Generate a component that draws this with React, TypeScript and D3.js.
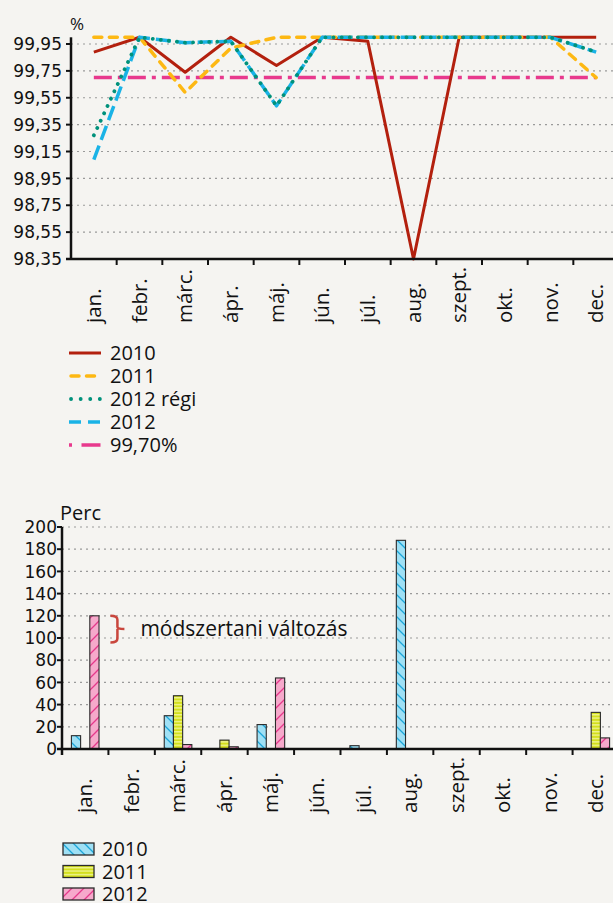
import * as d3 from "d3";

const MONTHS = ["jan.", "febr.", "márc.", "ápr.", "máj.", "jún.", "júl.", "aug.", "szept.", "okt.", "nov.", "dec."];

// felső diagram: rendelkezésre állás (%)
const AV_2010 = [99.89, 100, 99.74, 100, 99.79, 100, 99.97, 98.35, 100, 100, 100, 100];
const AV_2011 = [100, 100, 99.59, 99.92, 100, 100, 100, 100, 100, 100, 100, 99.7];
const AV_2012_REGI = [99.27, 100, 99.96, 99.97, 99.49, 100, 100, 100, 100, 100, 100, 99.89];
const AV_2012 = [99.09, 100, 99.96, 99.97, 99.49, 100, 100, 100, 100, 100, 100, 99.89];
const AV_TARGET = [99.7, 99.7, 99.7, 99.7, 99.7, 99.7, 99.7, 99.7, 99.7, 99.7, 99.7, 99.7];
const AV_TICKS = [98.35, 98.55, 98.75, 98.95, 99.15, 99.35, 99.55, 99.75, 99.95];

// alsó diagram: kiesés (perc)
const BAR_KEYS = ["2010", "2011", "2012"];
const MIN_2010 = [12, 0, 30, 0, 22, 0, 3, 188, 0, 0, 0, 0];
const MIN_2011 = [0, 0, 48, 8, 0, 0, 0, 0, 0, 0, 0, 33];
const MIN_2012 = [120, 0, 4, 2, 64, 0, 0, 0, 0, 0, 0, 10];
const MIN_TICKS = [0, 20, 40, 60, 80, 100, 120, 140, 160, 180, 200];
const NOTE_RANGE = [96, 120];
const NOTE_TEXT = "módszertani változás";

const BG = "#f5f4f1";
const TICK_FONT = "'DejaVu Sans', sans-serif";
const FONT = "'Open Sans', sans-serif";

const lineSeries = [
  { name: "2010", values: AV_2010, color: "#b3200e", dash: "", legendDash: "", cap: "butt", w: 3 },
  { name: "2011", values: AV_2011, color: "#fdb813", dash: "8,7.5", legendDash: "8,7.5", cap: "round", w: 3.5 },
  { name: "2012 régi", values: AV_2012_REGI, color: "#00917b", dash: "0.1,8", legendDash: "0.1,9.5", cap: "round", w: 3.8 },
  { name: "2012", values: AV_2012, color: "#1ab3e6", dash: "15,6", legendDash: "12,7", cap: "butt", w: 3.5 },
  { name: "99,70%", values: AV_TARGET, color: "#e8398d", dash: "18,6,4,6", legendDash: "3,9.5,19,20", cap: "butt", w: 3.5 },
];
// rajzolási sorrend: a 2012 régi a 2012 fölé kerül
const drawOrder = [4, 0, 1, 3, 2];

const barSeries = [
  { name: "2010", values: MIN_2010, fill: "url(#hatch2010)" },
  { name: "2011", values: MIN_2011, fill: "url(#hatch2011)" },
  { name: "2012", values: MIN_2012, fill: "url(#hatch2012)" },
];

export default function App() {
  // felső diagram skálái
  const xL = d3.scaleBand<string>().domain(MONTHS).range([71, 619]);
  const yL = d3.scaleLinear().domain([98.35, 100]).range([259, 37.3]);
  const cx = (m: string) => (xL(m) ?? 0) + xL.bandwidth() / 2;
  const line = d3
    .line<number>()
    .x((_, i) => cx(MONTHS[i]))
    .y((d) => yL(d));

  // alsó diagram skálái
  const xB = d3.scaleBand<string>().domain(MONTHS).range([62, 619]);
  const yB = d3.scaleLinear().domain([0, 200]).range([749, 527]);
  const groupW = 27.6;
  const xSub = d3.scaleBand<string>().domain(BAR_KEYS).range([0, groupW]);
  const groupOff = (xB.bandwidth() - groupW) / 2;

  const noteX = (xB(MONTHS[0]) ?? 0) + xB.bandwidth() + 2;
  const noteTop = yB(NOTE_RANGE[1]);
  const noteBot = yB(NOTE_RANGE[0]);
  const noteMid = (noteTop + noteBot) / 2;

  return (
    <>
      <style>{`body{margin:0;background:${BG}}`}</style>
      <svg width={613} height={903} style={{ display: "block", background: BG }}>
        <defs>
          <pattern id="hatch2010" patternUnits="userSpaceOnUse" width={11} height={11}>
            <rect width={11} height={11} fill="#9fe0f5" />
            <path d="M0,0 L11,11 M-1,10 L1,12 M10,-1 L12,1" stroke="#1ca6d9" strokeWidth={1.3} />
          </pattern>
          <pattern id="hatch2011" patternUnits="userSpaceOnUse" width={6} height={3.4}>
            <rect width={6} height={3.4} fill="#d3df1c" />
            <rect y={0} width={6} height={1.4} fill="#eef38e" />
          </pattern>
          <pattern id="hatch2012" patternUnits="userSpaceOnUse" width={12} height={12}>
            <rect width={12} height={12} fill="#f6a9cb" />
            <path d="M0,12 L12,0 M-1,1 L1,-1 M11,13 L13,11" stroke="#e6398c" strokeWidth={1.3} />
          </pattern>
        </defs>

        {/* ===== felső diagram ===== */}
        <text x={70} y={30} fontFamily={FONT} fontSize={17} fill="#111">%</text>
        {AV_TICKS.slice(1).map((t) => (
          <line key={t} x1={71} x2={613} y1={yL(t)} y2={yL(t)} stroke="#9a9a9a" strokeWidth={1.2} strokeDasharray="2,4" />
        ))}
        {drawOrder.map((k) => {
          const s = lineSeries[k];
          return (
            <path
              key={s.name}
              d={line(s.values) ?? ""}
              fill="none"
              stroke={s.color}
              strokeWidth={s.w}
              strokeDasharray={s.dash || undefined}
              strokeLinecap={s.cap as any}
              strokeLinejoin="round"
            />
          );
        })}
        <line x1={71} x2={71} y1={37.3} y2={259} stroke="#111" strokeWidth={2.5} />
        <line x1={66} x2={613} y1={259} y2={259} stroke="#111" strokeWidth={2.5} />
        {AV_TICKS.map((t) => (
          <g key={t}>
            <line x1={66} x2={71} y1={yL(t)} y2={yL(t)} stroke="#111" strokeWidth={2} />
            <text x={62} y={yL(t)} dy="0.36em" textAnchor="end" fontFamily={TICK_FONT} fontSize={17} fill="#111">
              {t.toFixed(2).replace(".", ",")}
            </text>
          </g>
        ))}
        {MONTHS.map((m) => (
          <g key={m}>
            <line x1={xL(m)! + xL.bandwidth()} x2={xL(m)! + xL.bandwidth()} y1={259} y2={265} stroke="#111" strokeWidth={2} />
            <text
              transform={`translate(${cx(m)},323) rotate(-90)`}
              dy="0.35em"
              textAnchor="start"
              fontFamily={FONT}
              fontSize={20.5}
              fill="#111"
            >
              {m}
            </text>
          </g>
        ))}

        {/* felső jelmagyarázat */}
        {lineSeries.map((s, i) => {
          const y = 353 + i * 23;
          return (
            <g key={s.name}>
              <line
                x1={s.cap === "round" ? 71 : 69}
                x2={s.cap === "round" ? 100 : 101}
                y1={y}
                y2={y}
                stroke={s.color}
                strokeWidth={s.w}
                strokeDasharray={s.legendDash || undefined}
                strokeLinecap={s.cap as any}
              />
              <text x={110} y={y} dy="0.35em" fontFamily={FONT} fontSize={20} fill="#111">
                {s.name}
              </text>
            </g>
          );
        })}

        {/* ===== alsó diagram ===== */}
        <text x={60} y={520} fontFamily={FONT} fontSize={20} fill="#111">Perc</text>
        {MIN_TICKS.slice(1).map((t) => (
          <line key={t} x1={62} x2={613} y1={yB(t)} y2={yB(t)} stroke="#9a9a9a" strokeWidth={1.2} strokeDasharray="2,4" />
        ))}
        {barSeries.map((s) =>
          s.values.map((v, i) =>
            v > 0 ? (
              <rect
                key={s.name + i}
                x={(xB(MONTHS[i]) ?? 0) + groupOff + (xSub(s.name) ?? 0)}
                y={yB(v)}
                width={xSub.bandwidth()}
                height={yB(0) - yB(v)}
                fill={s.fill}
                stroke="#2a2a2a"
                strokeWidth={1.1}
              />
            ) : null
          )
        )}
        <line x1={62} x2={62} y1={527} y2={755} stroke="#111" strokeWidth={2.5} />
        <line x1={57} x2={613} y1={749} y2={749} stroke="#111" strokeWidth={2.5} />
        {MIN_TICKS.map((t) => (
          <g key={t}>
            <line x1={57} x2={62} y1={yB(t)} y2={yB(t)} stroke="#111" strokeWidth={2} />
            <text x={57} y={yB(t)} dy="0.36em" textAnchor="end" fontFamily={TICK_FONT} fontSize={17} fill="#111">
              {t}
            </text>
          </g>
        ))}
        {MONTHS.map((m) => (
          <g key={m}>
            <line x1={xB(m)! + xB.bandwidth()} x2={xB(m)! + xB.bandwidth()} y1={749} y2={755} stroke="#111" strokeWidth={2} />
            <text
              transform={`translate(${(xB(m) ?? 0) + xB.bandwidth() / 2},813) rotate(-90)`}
              dy="0.35em"
              textAnchor="start"
              fontFamily={FONT}
              fontSize={20.5}
              fill="#111"
            >
              {m}
            </text>
          </g>
        ))}

        {/* megjegyzés: kapcsos zárójel */}
        <path
          d={`M${noteX},${noteTop} Q${noteX + 7},${noteTop} ${noteX + 7},${noteTop + 4}
              L${noteX + 7},${noteMid - 2} Q${noteX + 7},${noteMid} ${noteX + 14},${noteMid}
              M${noteX + 7},${noteMid} Q${noteX + 7},${noteMid} ${noteX + 7},${noteMid + 2}
              L${noteX + 7},${noteBot - 4} Q${noteX + 7},${noteBot} ${noteX},${noteBot}`}
          fill="none"
          stroke="#c9463d"
          strokeWidth={2.5}
        />
        <text x={noteX + 30} y={noteMid} dy="0.35em" fontFamily={FONT} fontSize={21} fill="#111">
          {NOTE_TEXT}
        </text>

        {/* alsó jelmagyarázat */}
        {barSeries.map((s, i) => {
          const y = 849 + i * 22.5;
          return (
            <g key={s.name}>
              <rect x={63} y={y - 6} width={31} height={12} fill={s.fill} stroke="#2a2a2a" strokeWidth={1.3} />
              <text x={102} y={y} dy="0.35em" fontFamily={FONT} fontSize={20} fill="#111">
                {s.name}
              </text>
            </g>
          );
        })}
      </svg>
    </>
  );
}
